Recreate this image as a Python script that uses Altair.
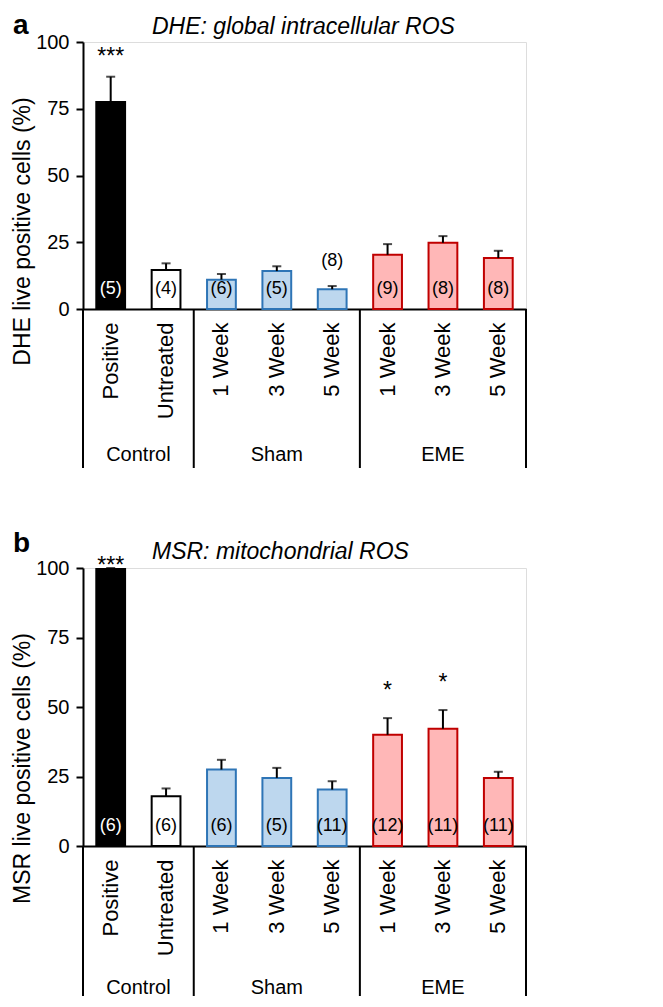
import altair as alt
import pandas as pd

groups = ["Control", "Control", "Sham", "Sham", "Sham", "EME", "EME", "EME"]
conds = ["Positive", "Untreated", "1 Week", "3 Week", "5 Week", "1 Week", "3 Week", "5 Week"]
keys = [f"{g}|{c}" for g, c in zip(groups, conds)]

dhe_mean = [77.5, 14.6, 11.0, 14.2, 7.4, 20.3, 24.8, 19.1]
dhe_sem = [9.5, 2.5, 2.1, 1.8, 1.2, 4.0, 2.5, 2.7]
dhe_n = [5, 4, 6, 5, 8, 9, 8, 8]
dhe_sig = ["***", "", "", "", "", "", "", ""]

msr_mean = [99.6, 17.9, 27.5, 24.5, 20.3, 40.0, 42.2, 24.5]
msr_sem = [0.4, 2.8, 3.5, 3.6, 3.0, 6.0, 6.7, 2.2]
msr_n = [6, 6, 6, 5, 11, 12, 11, 11]
msr_sig = ["***", "", "", "", "", "*", "*", ""]

group_order = ["Control", "Sham", "EME"]
kinds = ["Positive", "Untreated", "Sham", "EME"]
fills = ["#000000", "#ffffff", "#bdd7ee", "#ffb7b7"]
strokes = ["#000000", "#000000", "#2e75b6", "#c00000"]

FONT = "Liberation Sans"

# group divider / label anchors derived from the categories
div_start = [next(k for k, g in zip(keys, groups) if g == grp) for grp in group_order]
div_end = [keys[-1]]
lab_even, lab_odd = [], []
for grp in group_order:
    members = [k for k, g in zip(keys, groups) if g == grp]
    if len(members) % 2 == 0:
        lab_even.append({"key": members[len(members) // 2], "group": grp})
    else:
        lab_odd.append({"key": members[len(members) // 2], "group": grp})


def panel(mean, sem, n, sig, title, letter, ytitle, h, title_y, letter_y,
          line_len, glab_off, n_dy, star_dy_lo, star_dy_hi, ytitle_y):
    df = pd.DataFrame({
        "key": keys, "group": groups, "cond": conds,
        "mean": mean, "sem": sem,
        "n": [f"({v})" for v in n], "sig": sig,
    })
    df["top"] = df["mean"] + df["sem"]
    df["kind"] = [c if g == "Control" else g for g, c in zip(groups, conds)]
    base = alt.Chart(df)

    xaxis = alt.Axis(
        title=None, labelExpr="split(datum.label, '|')[1]", labelAngle=-90,
        ticks=False, tickSize=0, labelPadding=13, labelFontSize=22,
        labelFont=FONT, labelColor="black", domainColor="black",
        domainWidth=2, labelLimit=200,
    )
    xs = alt.Scale(paddingInner=0, paddingOuter=0)

    def X(bp=None):
        if bp is None:
            return alt.X("key:N", sort=keys, scale=xs, axis=xaxis)
        return alt.X("key:N", sort=keys, scale=xs, axis=xaxis, bandPosition=bp)

    ys = alt.Scale(domain=[0, 100], nice=False)
    yaxis = alt.Axis(
        title=ytitle, values=[0, 25, 50, 75, 100], grid=False,
        labelFontSize=20, labelFont=FONT, labelColor="black", labelPadding=7,
        tickSize=7, tickColor="black", tickWidth=2,
        domainColor="black", domainWidth=2,
        titleFontSize=23, titleFont=FONT, titleFontWeight="normal",
        titleColor="black", titlePadding=1, titleY=ytitle_y,
        titleAlign="center", titleAngle=-90, titleBaseline="bottom",
    )

    bars = base.mark_bar(width={"band": 0.52}, strokeWidth=2).encode(
        x=X(),
        y=alt.Y("mean:Q", scale=ys, axis=yaxis),
        fill=alt.Fill("kind:N", scale=alt.Scale(domain=kinds, range=fills), legend=None),
        stroke=alt.Stroke("kind:N", scale=alt.Scale(domain=kinds, range=strokes), legend=None),
    )
    err = base.mark_rule(color="black", strokeWidth=2).encode(
        x=X(), y=alt.Y("mean:Q", scale=ys), y2="top:Q"
    )
    cap = base.mark_tick(color="black", thickness=2, size=9, orient="horizontal").encode(
        x=X(), y=alt.Y("top:Q", scale=ys)
    )
    n_in = base.transform_filter("datum.mean >= 10").mark_text(
        fontSize=18, font=FONT, baseline="middle", dy=n_dy
    ).encode(
        x=X(), y=alt.YDatum(0),
        text="n:N",
        color=alt.condition("datum.kind == 'Positive'", alt.value("white"), alt.value("black")),
    )
    n_out = base.transform_filter("datum.mean < 10").mark_text(
        fontSize=18, font=FONT, baseline="middle", dy=-25, color="black"
    ).encode(x=X(), y=alt.Y("top:Q", scale=ys), text="n:N")
    star_lo = base.transform_filter("datum.sig != '' && datum.top < 99").mark_text(
        fontSize=23, font=FONT, baseline="alphabetic", dy=star_dy_lo, color="black"
    ).encode(x=X(), y=alt.Y("top:Q", scale=ys), text="sig:N")
    star_hi = base.transform_filter("datum.sig != '' && datum.top >= 99").mark_text(
        fontSize=23, font=FONT, baseline="alphabetic", dy=star_dy_hi, color="black"
    ).encode(x=X(), y=alt.Y("top:Q", scale=ys), text="sig:N")

    div_a = alt.Chart(pd.DataFrame({"key": div_start})).mark_rule(
        color="black", strokeWidth=2
    ).encode(x=X(0), y=alt.value(h), y2=alt.value(h + line_len))
    div_b = alt.Chart(pd.DataFrame({"key": div_end})).mark_rule(
        color="black", strokeWidth=2
    ).encode(x=X(1), y=alt.value(h), y2=alt.value(h + line_len))
    glab_a = alt.Chart(pd.DataFrame(lab_even)).mark_text(
        fontSize=20, font=FONT, baseline="middle", color="black"
    ).encode(x=X(0), y=alt.value(h + glab_off), text="group:N")
    glab_b = alt.Chart(pd.DataFrame(lab_odd)).mark_text(
        fontSize=20, font=FONT, baseline="middle", color="black"
    ).encode(x=X(0.5), y=alt.value(h + glab_off), text="group:N")

    tdf = alt.Chart(pd.DataFrame({"t": [title], "l": [letter]}))
    ttl = tdf.mark_text(fontSize=23, font=FONT, fontStyle="italic", align="left",
                        baseline="alphabetic", color="black").encode(
        x=alt.value(69), y=alt.value(title_y), text="t:N")
    let = tdf.mark_text(fontSize=28, font=FONT, fontWeight="bold", align="left",
                        baseline="alphabetic", color="black").encode(
        x=alt.value(-70), y=alt.value(letter_y), text="l:N")

    return alt.layer(
        bars, err, cap, n_in, n_out, star_lo, star_hi,
        div_a, div_b, glab_a, glab_b, ttl, let
    ).properties(width=443, height=h)


top = panel(dhe_mean, dhe_sem, dhe_n, dhe_sig, "DHE: global intracellular ROS", "a",
            "DHE live positive cells (%)", 267, -8, -8, 159, 146, -20, -13, -13, 189)
bottom = panel(msr_mean, msr_sem, msr_n, msr_sig, "MSR: mitochondrial ROS", "b",
               "MSR live positive cells (%)", 278, -9, -16, 150, 142, -20, -20, 5, 200)

chart = alt.vconcat(top, bottom, spacing=59).properties(
    padding={"left": 3, "top": 3, "right": 0, "bottom": 0}
).configure_view(stroke=None).configure(font=FONT)

chart.save("out.html", embed_options={"renderer": "svg", "actions": False})
